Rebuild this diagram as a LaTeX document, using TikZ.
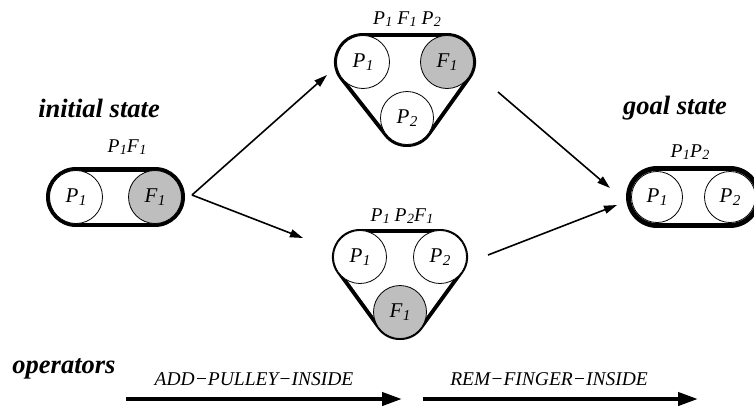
\documentclass[tikz,border=0pt]{standalone}
\usepackage{fontspec}
\setmainfont{Liberation Serif}
\usetikzlibrary{arrows.meta}
\definecolor{fingergray}{RGB}{190,190,190}
% symbol with an italic subscript, e.g. \sym P1
\newcommand\sym[2]{\textit{#1}\kern0.02em\raisebox{-0.3ex}{\scalebox{0.72}{\textit{#2}}}}
\begin{document}
\begin{tikzpicture}[x=1pt,y=-1pt,
  ringouter/.style={line width=#1, line cap=round, line join=round, draw=black},
  ringinner/.style={line width=#1, line cap=round, line join=round, draw=white},
  part/.style={circle, draw, line width=0.8pt, minimum size=53pt, inner sep=0pt,
    fill=white, font=\fontsize{21}{21}\selectfont},
  finger/.style={part, fill=fingergray},
  contents/.style={font=\fontsize{19.5}{19.5}\selectfont, inner sep=0pt},
  heading/.style={font=\fontsize{26.5}{26.5}\selectfont\bfseries\itshape, inner sep=0pt},
  oplabel/.style={font=\fontsize{19.5}{19.5}\selectfont\itshape, inner sep=0pt},
  conn/.style={-{Triangle[length=13pt,width=8pt]}, line width=1.6pt},
  oparrow/.style={-{Triangle[length=20pt,width=13pt]}, line width=4pt}]
\useasboundingbox (0,0) rectangle (754,408);

% centres of the parts in each state
\coordinate (i1) at (76,197);  \coordinate (i2) at (155,197);
\coordinate (t1) at (363,62);  \coordinate (t2) at (447,62);  \coordinate (t3) at (407,118);
\coordinate (b1) at (360,257); \coordinate (b2) at (440,257); \coordinate (b3) at (400,312);
\coordinate (g1) at (657,197); \coordinate (g2) at (730,197);

% state outlines: hull of the parts, drawn as a thick ring
\draw[ringouter=60pt] (i1) -- (i2);
\draw[ringinner=51pt] (i1) -- (i2);
\draw[ringouter=58pt] (t1) -- (t2) -- (t3) -- cycle;
\draw[ringinner=50pt] (t1) -- (t2) -- (t3) -- cycle;
\draw[ringouter=56pt] (b1) -- (b2) -- (b3) -- cycle;
\draw[ringinner=48pt] (b1) -- (b2) -- (b3) -- cycle;
\draw[ringouter=62pt] (g1) -- (g2);
\draw[ringinner=52pt] (g1) -- (g2);

% parts
\node[part]   (ip1) at (i1) {\sym P1};
\node[finger] (if1) at (i2) {\sym F1};
\node[part]   (tp1) at (t1) {\sym P1};
\node[finger] (tf1) at (t2) {\sym F1};
\node[part]   (tp2) at (t3) {\sym P2};
\node[part]   (bp1) at (b1) {\sym P1};
\node[part]   (bp2) at (b2) {\sym P2};
\node[finger] (bf1) at (b3) {\sym F1};
\node[part, minimum size=51pt] (gp1) at (g1) {\sym P1};
\node[part, minimum size=51pt] (gp2) at (g2) {\sym P2};

% contents labels
\node[contents] (il) at (127,147) {\sym P1\sym F1};
\node[contents] (tl) at (407,19)  {\sym P1 \sym F1 \sym P2};
\node[contents] (bl) at (402,216) {\sym P1 \sym P2\sym F1};
\node[contents] (gl) at (690,152) {\sym P1\sym P2};

% headings
\node[heading] (ih) at (99,108)  {initial state};
\node[heading] (gh) at (675,108) {goal state};
\node[heading] (oh) at (64,369)  {operators};

% transitions
\coordinate (s0) at (192,195);
\coordinate (e1) at (327,75);
\coordinate (e2) at (303,238);
\coordinate (s3) at (498,92);
\coordinate (e3) at (610,188);
\coordinate (s4) at (488,255);
\coordinate (e4) at (617,205);
\draw[conn] (s0) -- (e1);
\draw[conn] (s0) -- (e2);
\draw[conn] (s3) -- (e3);
\draw[conn] (s4) -- (e4);

% operator sequence
\coordinate (o1s) at (126,399); \coordinate (o1e) at (402,399);
\coordinate (o2s) at (423,399); \coordinate (o2e) at (698,399);
\draw[oparrow] (o1s) -- (o1e);
\draw[oparrow] (o2s) -- (o2e);
\node[oplabel] (op1) at (254,379) {ADD−PULLEY−INSIDE};
\node[oplabel] (op2) at (549,379) {REM−FINGER−INSIDE};
\end{tikzpicture}
\end{document}
